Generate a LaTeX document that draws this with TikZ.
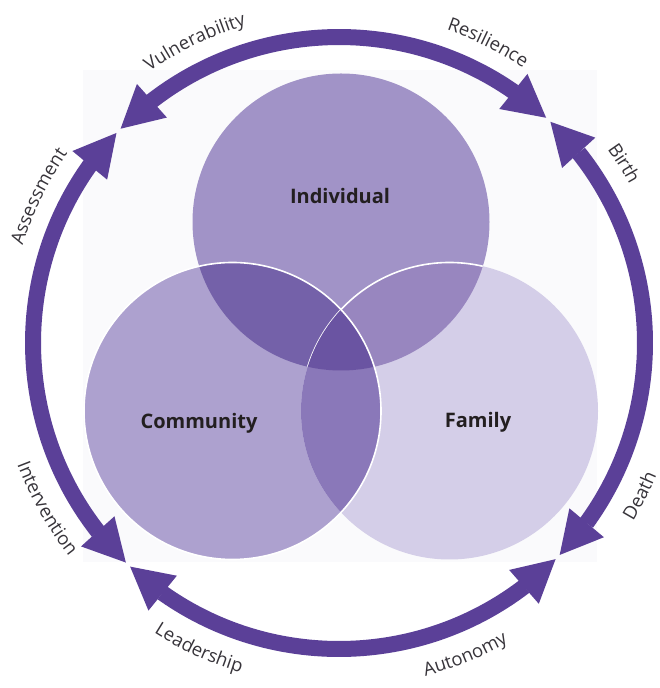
\documentclass[tikz,border=0pt]{standalone}
\usepackage{fontspec}
\setsansfont{Open Sans}
\usetikzlibrary{arrows.meta, bending}
\usetikzlibrary{decorations.text}
\usepackage{xcolor}
\definecolor{ringpurple}{RGB}{91,64,152}
\definecolor{ringtext}{RGB}{55,52,58}
\definecolor{venntext}{RGB}{35,31,32}
\definecolor{backgray}{RGB}{250,250,252}
\definecolor{indcol}{RGB}{161,147,199}
\definecolor{comcol}{RGB}{173,161,207}
\definecolor{famcol}{RGB}{212,206,232}
\definecolor{iccol}{RGB}{116,97,169}
\definecolor{ifcol}{RGB}{152,134,191}
\definecolor{cfcol}{RGB}{138,120,185}
\definecolor{icfcol}{RGB}{106,84,162}
\newcommand\rfont{\sffamily\fontsize{18.5}{22}\selectfont\color{ringtext}}

\begin{document}
\begin{tikzpicture}[
        x=1pt, y=1pt,
        vnode/.style={font=\sffamily\bfseries\fontsize{20}{24}\selectfont, text=venntext},
        rarrow/.style={draw=ringpurple, line width=16pt,
            {Triangle[length=42pt,width=45pt,line width=0pt,flex]}-{Triangle[length=42pt,width=45pt,line width=0pt,flex]}},
        rlabel/.style={decorate, decoration={text along path, text align=center, text/.expanded={|\noexpand\rfont|#1}}}
    ]
        \useasboundingbox (0,0) rectangle (660,688);
        \fill[backgray] (83,126) rectangle (597,618);

        % the three circles
        \coordinate (ic) at (341,466);
        \coordinate (cc) at (232.5,277);
        \coordinate (fc) at (449.5,277);
        \coordinate (ctr) at (339,345);
        \fill[indcol] (ic) circle (148.5);
        \fill[comcol] (cc) circle (148.5);
        \fill[famcol] (fc) circle (148.5);
        \begin{scope}
            \clip (cc) circle (148.5);
            \fill[cfcol] (fc) circle (148.5);
        \end{scope}
        \begin{scope}
            \clip (ic) circle (148.5);
            \fill[iccol] (cc) circle (148.5);
            \fill[ifcol] (fc) circle (148.5);
            \draw[white, line width=1.6pt] (fc) circle (148.5);
            \clip (cc) circle (148.5);
            \fill[icfcol] (fc) circle (148.5);
        \end{scope}
        \draw[white, line width=1.6pt] (cc) circle (148.5);

        \node[vnode] (ind) at (340,492) {Individual};
        \node[vnode] (com) at (199,265) {Community};
        \node[vnode] (fam) at (478,266) {Family};

        % ring of arrows
        \foreach \a/\b in {47.4/135.55, 136.65/225.85, 226.95/315.05, 316.15/406.3}
            \draw[rarrow] (ctr) ++(\a:306) arc[start angle=\a, end angle=\b, radius=306];

        \foreach \ang/\word in {115.6/Vulnerability, 63.6/Resilience, 32.2/Birth, 154/Assessment}
            \path[rlabel=\word] (ctr) ++(\ang+30:331) arc[start angle=\ang+30, end angle=\ang-30, radius=331];
        \foreach \ang/\word in {-26.9/Death, -68/Autonomy, 245.4/Leadership, 209.5/Intervention}
            \path[rlabel=\word] (ctr) ++(\ang-30:344) arc[start angle=\ang-30, end angle=\ang+30, radius=344];
    \end{tikzpicture}
\end{document}
